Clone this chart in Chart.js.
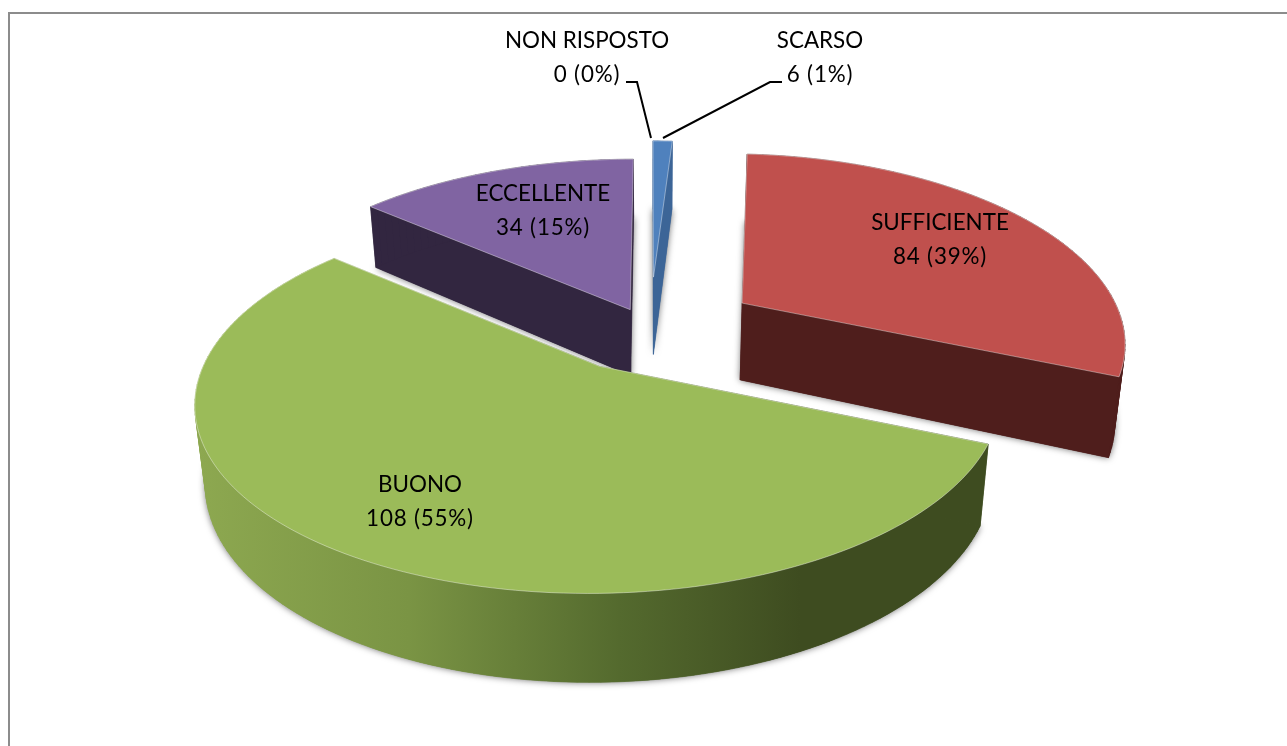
<!DOCTYPE html>
<html><head><meta charset="utf-8">
<script src="https://cdn.jsdelivr.net/npm/chart.js@4"></script>
<style>html,body{margin:0;padding:0;background:#fff;overflow:hidden}canvas{display:block}</style>
</head><body>
<canvas id="c" width="1287" height="746"></canvas>
<script>
// Data
const categories = ['NON RISPOSTO','SCARSO','SUFFICIENTE','BUONO','ECCELLENTE'];
const labelCounts = [0,6,84,108,34];
const labelPercents = [0,1,39,55,15];
const drawnShares = [0,0.97,30.38,54.85,13.8]; // share of the circle each slice covers in the picture

// Styles
const topColors = ['#4f81bd','#4f81bd','#c0504d','#9bbb59','#8064a2'];
const wallColors = ['#3c6597','#3c6597','#4f1e1c','#3e4c20','#322640'];
const explode = [0,0.318,0.293,0.245,0.126];
const radiusX = [1,1.03,1.008,1.005,1.03];
const radiusY = [1,1.03,1.08,1.005,1.075];
const wallDepth = [0,82,80,78,68];
const paintOrder = [4,1,2,3];
const labelPos = [[587,41],[820,41],[940,223],[420,485],[543,194]];
const KY = 0.453, QP = 0.173, SP = 0.022;

function project(cx,cy,R,X,Y,z,D){
  const w = 1 - QP*Y + SP*z;
  return [cx + R*X/w, cy + (KY*R*Y + D*z)/w];
}
function outline(arc,i){
  const ea=(arc.startAngle+arc.endAngle)/2, ex=Math.cos(ea)*explode[i], ey=Math.sin(ea)*explode[i];
  const pts=[[ex,ey]], n=Math.max(4,Math.ceil((arc.endAngle-arc.startAngle)*40));
  for(let k=0;k<=n;k++){
    const a=arc.startAngle+(arc.endAngle-arc.startAngle)*k/n;
    pts.push([ex+Math.cos(a)*radiusX[i],ey+Math.sin(a)*radiusY[i]]);
  }
  return pts;
}
function trace(ctx,p){ctx.beginPath();p.forEach((q,j)=>j?ctx.lineTo(q[0],q[1]):ctx.moveTo(q[0],q[1]));ctx.closePath();}

const pie3d = {
  id:'pie3d',
  beforeDatasetDraw(chart,args){
    const ctx=chart.ctx, arcs=args.meta.data;
    paintOrder.forEach(i=>{
      const arc=arcs[i];
      const {x:cx,y:cy,outerRadius:R}=arc;
      const pts=outline(arc,i), D=wallDepth[i];
      const top=pts.map(p=>project(cx,cy,R,p[0],p[1],0,D));
      const bot=pts.map(p=>project(cx,cy,R,p[0],p[1],1,D));
      let wall=wallColors[i];
      if(i===3){
        const g=ctx.createLinearGradient(198,0,800,0);
        g.addColorStop(0,'#8da850');g.addColorStop(0.35,'#7a9444');g.addColorStop(0.7,'#546a2e');g.addColorStop(1,'#3e4c20');
        wall=g;
      }
      ctx.save();
      ctx.shadowColor='rgba(0,0,0,0.6)';ctx.shadowBlur=7;
      ctx.fillStyle=wall;trace(ctx,bot);ctx.fill();
      ctx.restore();
      ctx.save();
      ctx.fillStyle=wall;ctx.strokeStyle=wall;ctx.lineWidth=0.6;
      for(let j=0;j<pts.length;j++){
        const n=(j+1)%pts.length;
        trace(ctx,[top[j],top[n],bot[n],bot[j]]);ctx.fill();ctx.stroke();
      }
      ctx.fillStyle=topColors[i];trace(ctx,top);ctx.fill();
      ctx.strokeStyle='rgba(255,255,255,0.4)';ctx.lineWidth=1;ctx.stroke();
      ctx.restore();
    });
    return false;
  },
  afterDraw(chart){
    const ctx=chart.ctx;
    ctx.save();
    ctx.strokeStyle='#8c8c8c';ctx.lineWidth=2;
    ctx.beginPath();ctx.moveTo(9,746);ctx.lineTo(9,13);ctx.lineTo(1287,13);ctx.stroke();
    ctx.strokeStyle='#000';ctx.lineWidth=2;
    ctx.beginPath();ctx.moveTo(626,82);ctx.lineTo(637,82);ctx.lineTo(651,138);ctx.stroke();
    ctx.beginPath();ctx.moveTo(782,82);ctx.lineTo(770,82);ctx.lineTo(663,138);ctx.stroke();
    ctx.fillStyle='#000';ctx.textAlign='center';ctx.textBaseline='middle';
    ctx.font='22.4px Lato';
    categories.forEach((name,i)=>{
      const [x,y]=labelPos[i];
      ctx.letterSpacing='0px';
      ctx.fillText(name,x,y);
      ctx.letterSpacing='0.8px';
      ctx.fillText(labelCounts[i]+' ('+labelPercents[i]+'%)',x,y+34);
    });
    ctx.restore();
  }
};

new Chart(document.getElementById('c'),{
  type:'pie',
  data:{labels:categories,datasets:[{data:drawnShares,backgroundColor:topColors}]},
  options:{
    responsive:false,animation:false,radius:380,
    layout:{padding:{left:13,right:0,top:0,bottom:88}},
    plugins:{legend:{display:false},tooltip:{enabled:false}}
  },
  plugins:[pie3d]
});
</script>
</body></html>
